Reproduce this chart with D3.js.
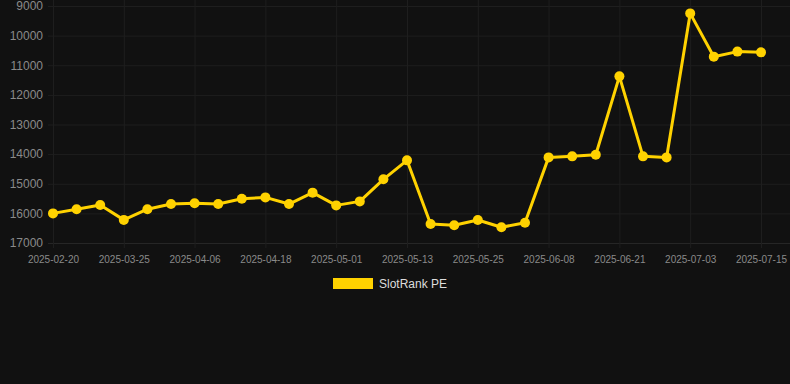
<!DOCTYPE html>
<html><head><meta charset="utf-8">
<script src="https://cdn.jsdelivr.net/npm/d3@7"></script>
<style>html,body{margin:0;padding:0;background:#111111;}svg{display:block;}</style>
</head><body>
<script>
const dates = ["2025-02-20","2025-03-17","2025-03-21","2025-03-25","2025-03-29","2025-04-02","2025-04-06","2025-04-10","2025-04-14","2025-04-18","2025-04-22","2025-04-27","2025-05-01","2025-05-05","2025-05-09","2025-05-13","2025-05-17","2025-05-21","2025-05-25","2025-05-30","2025-06-04","2025-06-08","2025-06-12","2025-06-17","2025-06-21","2025-06-25","2025-06-29","2025-07-03","2025-07-07","2025-07-11","2025-07-15"];
const values = [16000,15860,15720,16220,15860,15685,15660,15685,15505,15460,15685,15300,15730,15595,14850,14210,16360,16400,16225,16470,16315,14110,14075,14020,11375,14075,14110,9250,10710,10540,10565];
const yTicks = [9000,10000,11000,12000,13000,14000,15000,16000,17000];
const seriesName = "SlotRank PE";

const W = 790, H = 384;
const svg = d3.select("body").append("svg").attr("width", W).attr("height", H);
svg.append("rect").attr("width", W).attr("height", H).attr("fill", "#111111");

const x = d3.scalePoint().domain(dates).range([53, 761]);
const y = d3.scaleLinear().domain([9000, 17000]).range([6, 243]);
const gridColor = "#1e1e1e";

// horizontal grid
const yAxis = d3.axisLeft(y).tickValues(yTicks).tickSize(5).tickPadding(5).tickFormat(d => d);
const gy = svg.append("g").attr("transform", "translate(48,0)").call(yAxis);
gy.select(".domain").remove();
gy.selectAll(".tick line").attr("x1", 0).attr("x2", W - 48).attr("stroke", d => d === 17000 ? "#262626" : gridColor);
gy.selectAll(".tick text").attr("fill", "#8a8a8a").attr("font-size", 12).attr("font-family", "Arial, 'Liberation Sans', sans-serif").attr("x", -5);

// vertical grid + x labels
const shown = dates.filter((d, i) => i % 3 === 0);
const xAxis = d3.axisBottom(x).tickValues(shown).tickSize(0).tickPadding(0);
const gx = svg.append("g").attr("transform", "translate(0,248)").call(xAxis);
gx.select(".domain").remove();
gx.selectAll(".tick line").attr("y1", -248).attr("y2", 0).attr("stroke", gridColor);
gx.selectAll(".tick text").attr("fill", "#8a8a8a").attr("font-size", 10).attr("font-family", "Arial, 'Liberation Sans', sans-serif").attr("dy", 0).attr("y", 15);

// line
const line = d3.line().x((d, i) => x(dates[i])).y(d => y(d));
svg.append("path").datum(values).attr("d", line).attr("fill", "none").attr("stroke", "#ffd200").attr("stroke-width", 3).attr("stroke-linejoin", "round");
svg.selectAll("circle.pt").data(values).join("circle").attr("class", "pt")
  .attr("cx", (d, i) => x(dates[i])).attr("cy", d => y(d)).attr("r", 5).attr("fill", "#ffd200");

// legend
svg.append("rect").attr("x", 333).attr("y", 278).attr("width", 40).attr("height", 11).attr("fill", "#ffd200");
svg.append("text").attr("x", 379).attr("y", 288).attr("fill", "#dddddd").attr("font-size", 12)
  .attr("font-family", "Arial, 'Liberation Sans', sans-serif").text(seriesName);
</script>
</body></html>
